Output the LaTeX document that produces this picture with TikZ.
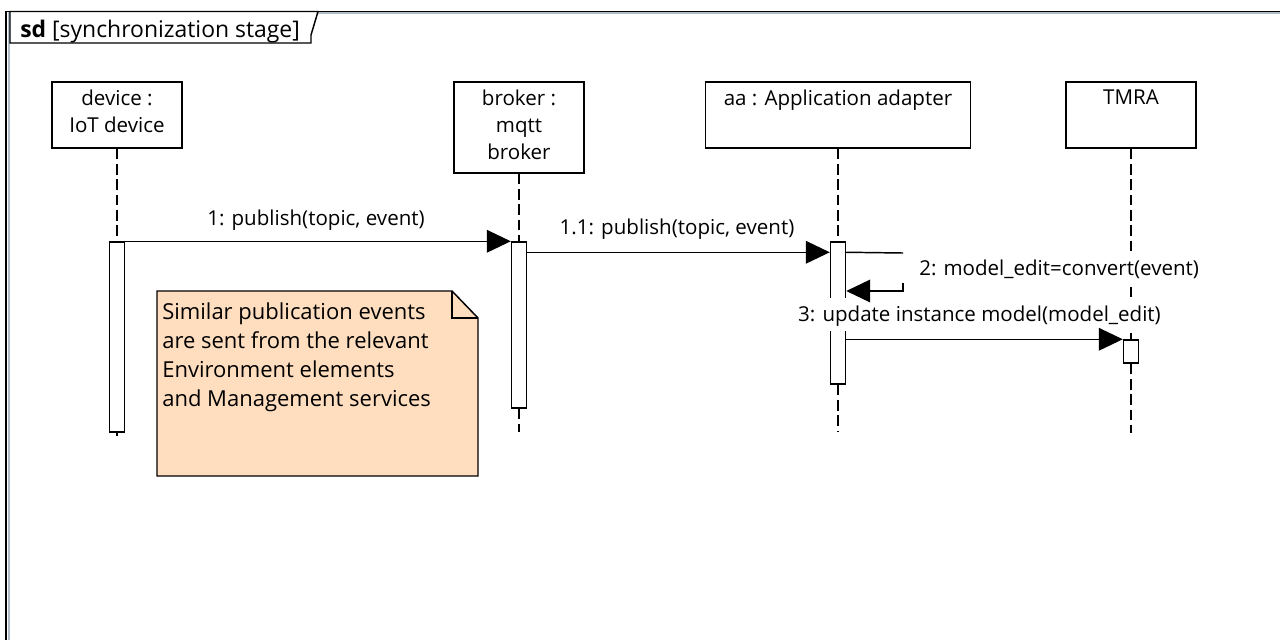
\documentclass[tikz,border=0pt]{standalone}
\usepackage{fontspec}
\setmainfont{Open Sans}
\usetikzlibrary{arrows.meta,calc}
\definecolor{notefill}{RGB}{255,222,192}
\definecolor{framegray}{RGB}{176,188,200}
\begin{document}
\begin{tikzpicture}[x=0.75pt,y=-0.75pt,
  head/.style={draw,line width=1.1pt,fill=white,inner sep=0,minimum width=97.5pt},
  headtext/.style={anchor=north,inner sep=0,align=center,font=\fontsize{15.4}{20}\selectfont},
  act/.style={draw,line width=1.1pt,fill=white,inner sep=0,minimum width=11.25pt},
  life/.style={line width=0.9pt,dash pattern=on 8pt off 3.5pt},
  msg/.style={line width=1.1pt,-{Triangle[length=18pt,width=17pt]}},
  msgline/.style={line width=1.1pt},
  msglabel/.style={fill=white,inner xsep=12pt,inner ysep=3pt,text height=14pt,text depth=4.5pt,font=\fontsize{15.4}{20}\selectfont},
  notetext/.style={anchor=north west,inner sep=0,align=left,font=\fontsize{16.5}{21.75}\selectfont},
]
\useasboundingbox (0,0) rectangle (1280,640);
% frame
\draw[framegray,line width=1.5pt] (8.5,640) -- (8.5,13.3) -- (1280,13.3);
\draw[line width=1.3pt] (6,640) -- (6,11.5) -- (1280,11.5);
\draw[line width=1.1pt,fill=white] (10,11.5) -- (318,11.5) -- (311,35) -- (311,43) -- (10,43) -- cycle;
\node[anchor=base west,inner sep=0,font=\fontsize{17.2}{20}\selectfont] (title) at (20,37) {\textbf{sd} [synchronization stage]};

% heads
\node[head,minimum height=49.5pt] (dev) at (117,115) {};
\node[headtext] (devt) at (117,90) {device :\\IoT device};
\node[head,minimum height=68.25pt] (bro) at (519,127.5) {};
\node[headtext] (brot) at (519,90) {broker :\\mqtt\\broker};
\node[head,minimum width=198.75pt,minimum height=49.5pt] (aa) at (838,115) {};
\node[headtext] (aat) at (838,90) {aa : Application adapter};
\node[head,minimum height=49.5pt] (tm) at (1131,115) {};
\node[headtext] (tmt) at (1131,90) {TMRA};

% activations
\node[act,minimum height=142.5pt] (adev) at (117,337) {};
\node[act,minimum height=124.5pt] (abro) at (519,325) {};
\node[act,minimum height=106.5pt] (aaa) at (838,313) {};
\node[act,minimum height=17.25pt] (atm) at (1131,351.5) {};

% lifeline ends
\coordinate (devend) at (117,436);
\coordinate (broend) at (519,432);
\coordinate (aaend) at (838,432);
\coordinate (tmend) at (1131,433);

% lifelines
\draw[life] (dev.south) -- (adev.north);
\draw[life] (adev.south) -- (devend);
\draw[life] (bro.south) -- (abro.north);
\draw[life] (abro.south) -- (broend);
\draw[life] (aa.south) -- (aaa.north);
\draw[life] (aaa.south) -- (aaend);
\draw[life] (tm.south) -- (atm.north);
\draw[life] (atm.south) -- (tmend);

% note
\fill[notefill] (157,291) -- (452,291) -- (478,318) -- (478,476) -- (157,476) -- cycle;
\draw[line width=1.1pt] (157,291) -- (452,291) -- (478,318) -- (478,476) -- (157,476) -- cycle;
\draw[line width=1.1pt] (452,291) -- (452,318) -- (478,318);
\node[notetext] (note) at (162,303) {Similar publication events\\are sent from the relevant\\Environment elements\\and Management services};

% message labels
\node[msglabel,anchor=base] (l1) at (316,225) {1: publish(topic, event)};
\node[msglabel,anchor=base] (l11) at (677,234) {1.1: publish(topic, event)};
\node[msglabel,anchor=base west] (l2) at (903,275) {2: model\_edit=convert(event)};
\node[msglabel,anchor=base] (l3) at (979.5,321) {3: update instance model(model\_edit)};

% messages
\draw[msg] (adev.north east) -- (abro.north west);
\draw[msg] ($(abro.north east)+(0,11)$) -- ($(aaa.north west)+(0,11)$);
\coordinate (s1) at (903,253);
\coordinate (s2) at (903,283);
\coordinate (s3) at (903,291);
\draw[msgline] ($(aaa.north east)+(0,11)$) -- (s1);
\draw[msg] (s2) -- (s3) -- (aaa.east |- s3);
\draw[msg] (aaa.east |- atm.north) -- (atm.north west);
\end{tikzpicture}
\end{document}
